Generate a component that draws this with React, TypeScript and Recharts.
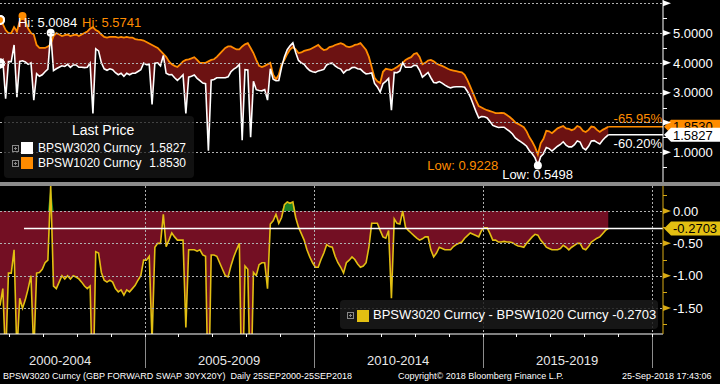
import React from "react";
import { ComposedChart, Area, Line, XAxis, YAxis, ReferenceLine, ReferenceDot } from "recharts";

// one value per month, first fixing 25 Sep 2000
const startYear = 2000.72;

// BPSW1020 Curncy (orange)
const bpsw1020 = [
    5.442, 5.30, 5.10, 5.00, 5.00, 5.20, 5.05, 5.40, 5.5741, 5.40, 5.15, 5.00,
    4.95, 4.60, 4.50, 4.50, 4.50, 4.55, 4.62, 4.90, 5.00, 4.95, 4.90, 4.93,
    4.95, 4.90, 4.93, 4.95, 4.90, 4.95, 5.00, 5.05, 5.15, 5.20, 5.10, 5.05,
    4.95, 4.87, 4.85, 4.87, 4.87, 4.87, 4.85, 4.87, 4.85, 4.87, 4.85, 4.85,
    4.80, 4.78, 4.77, 4.75, 4.70, 4.65, 4.60, 4.55, 4.50, 4.40, 4.30, 4.20,
    4.05, 3.95, 3.90, 3.86, 3.95, 4.05, 4.10, 4.12, 4.15, 4.19, 4.10, 4.00,
    4.00, 4.00, 4.05, 4.10, 4.12, 4.20, 4.30, 4.40, 4.50, 4.55, 4.55, 4.50,
    4.45, 4.45, 4.55, 4.62, 4.66, 4.50, 4.33, 4.10, 3.90, 3.86, 3.90, 3.95,
    4.00, 3.60, 3.45, 3.60, 3.95, 4.10, 4.30, 4.45, 4.53, 4.45, 4.33, 4.35,
    4.40, 4.43, 4.45, 4.50, 4.55, 4.60, 4.50, 4.43, 4.45, 4.53, 4.55, 4.60,
    4.63, 4.66, 4.62, 4.55, 4.53, 4.55, 4.60, 4.62, 4.66, 4.55, 4.43, 4.20,
    3.85, 3.50, 3.38, 3.32, 3.70, 3.80, 3.78, 3.76, 3.80, 3.86, 3.93, 4.00,
    4.10, 4.15, 4.19, 4.30, 4.33, 4.20, 3.95, 4.00, 4.08, 4.10, 4.05, 3.98,
    3.93, 3.90, 3.85, 3.80, 3.76, 3.74, 3.72, 3.70, 3.68, 3.60, 3.42, 3.20,
    2.98, 2.75, 2.55, 2.50, 2.45, 2.41, 2.38, 2.35, 2.31, 2.31, 2.32, 2.31,
    2.25, 2.18, 2.10, 2.00, 1.95, 1.90, 1.84, 1.70, 1.50, 1.35, 1.17, 0.9228,
    1.30, 1.45, 1.72, 1.70, 1.64, 1.72, 1.80, 1.84, 1.88, 1.80, 1.78, 1.74,
    1.78, 1.88, 1.84, 1.72, 1.68, 1.75, 1.86, 1.84, 1.75, 1.68, 1.75, 1.80,
    1.853,
];

// BPSW3020 Curncy (white)
const bpsw3020 = [
    3.977, 4.10, 2.80, 4.04, 4.04, 4.60, 2.85, 4.05, 4.07, 4.03, 3.95, 4.00,
    2.75, 3.64, 3.55, 3.60, 3.70, 3.79, 5.0084, 3.74, 3.80, 3.85, 3.90, 3.88,
    3.95, 3.85, 3.93, 3.93, 3.85, 3.85, 3.84, 3.85, 3.99, 2.30, 4.47, 4.40,
    4.00, 3.80, 3.75, 3.80, 3.77, 3.67, 3.60, 3.65, 3.55, 3.65, 3.60, 3.65,
    3.65, 3.71, 3.77, 3.99, 3.94, 3.95, 2.60, 3.99, 4.00, 3.90, 4.25, 3.65,
    3.60, 3.61, 3.50, 3.41, 3.50, 3.60, 2.30, 3.52, 3.55, 3.59, 3.48, 3.40,
    3.32, 3.30, 1.05, 3.42, 3.44, 3.50, 3.50, 3.50, 3.50, 3.53, 3.70, 3.79,
    3.85, 3.95, 1.40, 3.77, 3.76, 1.50, 3.38, 3.10, 3.07, 3.06, 3.10, 2.75,
    3.80, 3.45, 3.40, 3.41, 3.85, 4.20, 4.44, 4.57, 4.67, 4.35, 4.08, 4.00,
    3.95, 3.83, 3.74, 3.70, 3.68, 3.73, 3.75, 3.78, 3.93, 3.98, 3.99, 3.90,
    3.83, 3.79, 3.66, 3.75, 3.77, 3.84, 3.85, 3.80, 3.79, 3.70, 3.63, 3.64,
    3.66, 3.31, 3.19, 3.02, 3.30, 3.38, 3.48, 2.41, 3.68, 3.67, 3.73, 4.00,
    3.85, 3.85, 3.85, 3.92, 3.91, 3.75, 3.52, 3.60, 3.68, 3.50, 3.34, 3.33,
    3.37, 3.32, 3.25, 3.20, 3.16, 3.19, 3.20, 3.20, 3.20, 3.18, 3.04, 2.86,
    2.62, 2.37, 2.15, 2.20, 2.19, 2.15, 2.03, 1.90, 1.86, 1.83, 1.84, 1.84,
    1.77, 1.70, 1.61, 1.48, 1.41, 1.35, 1.28, 1.20, 1.05, 0.95, 0.81, 0.5498,
    0.85, 0.95, 1.16, 1.12, 1.04, 1.12, 1.20, 1.26, 1.35, 1.24, 1.18, 1.18,
    1.25, 1.38, 1.34, 1.14, 1.08, 1.20, 1.38, 1.39, 1.33, 1.28, 1.40, 1.50,
    1.5827,
];

const xDomain = [2000.72, 2020.34];
const topDomain = [0, 6.11];
const bottomDomain = [-1.902, 0.387];
const topTicks = [0.5, 1, 1.5, 2, 2.5, 3, 3.5, 4, 4.5, 5, 5.5, 6];
const topLabelled = [1, 3, 4, 5];
const bottomTicks = [0.25, 0, -0.25, -0.5, -0.75, -1, -1.25, -1.5, -1.75];
const yearTicks = [2001, 2002, 2003, 2004, 2005, 2006, 2007, 2008, 2009, 2010, 2011, 2012, 2013, 2014, 2015, 2016, 2017, 2018, 2019, 2020];
const periodTicks = [2002.5, 2007.5, 2012.5, 2017.5];
const periodLabels = ["2000-2004", "2005-2009", "2010-2014", "2015-2019"];
const periodBreaks = [2005, 2010, 2015, 2020];
const topGrid = [1, 2, 3, 4, 5, 6];
const bottomGrid = [0, -0.5, -1, -1.5];
const lastLineFrom = 2001.43;

const ORANGE = "#ff8c00";
const WHITE = "#ffffff";
const YELLOW = "#e2bf12";
const GOLD = "#d9ab14";
const GRID = "#b0b0b0";
const FONT = "'Liberation Sans', Arial, sans-serif";

const data = bpsw1020.map((o, i) => ({
    t: startYear + i / 12,
    o,
    w: bpsw3020[i],
    s: bpsw3020[i] - o,
}));
const first = data[0];
const last = data[data.length - 1];
const idxMax = (a: number[]) => a.indexOf(Math.max(...a));
const idxMin = (a: number[]) => a.indexOf(Math.min(...a));
const hiO = idxMax(bpsw1020);
const hiW = idxMax(bpsw3020);
const loO = idxMin(bpsw1020);
const loW = idxMin(bpsw3020);
const pct = (a: number, b: number) => ((b / a - 1) * 100).toFixed(2) + "%";
const crisp = (v: number) => Math.round(v) + 0.5;

// dotted grid drawn as short segments (2 on, 2 off)
const dashes = (len: number, horizontal: boolean) => {
    let d = "";
    for (let p = 0; p < len; p += 4) d += horizontal ? `M${p},0h2` : `M0,${p}v2`;
    return d;
};

// grid lines hang off the axis ticks so they stay on the library's scales
const HGrid = ({ x, y }: { x: number; y: number }) => (
    <path d={dashes(x, true)} transform={`translate(0,${crisp(y)})`} stroke={GRID} strokeWidth={1} fill="none" />
);
const VGrid = ({ x, y }: { x: number; y: number }) => (
    <path d={dashes(y, false)} transform={`translate(${crisp(x)},0)`} stroke={GRID} strokeWidth={1} fill="none" />
);

const TopTick = (props: any) => {
    const { x, y, payload } = props;
    const v = payload.value;
    if (!Number.isInteger(v)) return <line x1={x} x2={x + 4} y1={crisp(y)} y2={crisp(y)} stroke={WHITE} />;
    return (
        <g>
            {topGrid.includes(v) && <HGrid x={x} y={y} />}
            <path d={`M${x},${y - 3}L${x + 8},${y}L${x},${y + 3}Z`} fill={WHITE} />
            {topLabelled.includes(v) && (
                <text x={x + 10} y={y} dy="0.36em" fill={WHITE} fontSize={13} fontFamily={FONT}>{v.toFixed(4)}</text>
            )}
        </g>
    );
};

const BottomTick = (props: any) => {
    const { x, y, payload } = props;
    const v = payload.value;
    if (!bottomGrid.includes(v)) return <line x1={x} x2={x + 4} y1={crisp(y)} y2={crisp(y)} stroke={GOLD} />;
    return (
        <g>
            <HGrid x={x} y={y} />
            <path d={`M${x},${y - 3}L${x + 8},${y}L${x},${y + 3}Z`} fill={GOLD} />
            <text x={x + 10} y={y} dy="0.36em" fill={WHITE} fontSize={13} fontFamily={FONT}>{v === 0 ? "0.00" : v.toFixed(2)}</text>
        </g>
    );
};

const TopXTick = (props: any) => <VGrid x={props.x} y={props.y} />;

const XTick = (props: any) => {
    const { x, y, payload } = props;
    const v = payload.value;
    const p = periodTicks.indexOf(v);
    if (p >= 0) {
        return <text x={x} y={y + 31} textAnchor="middle" fill="#e8e8e8" fontSize={13} fontFamily={FONT}>{periodLabels[p]}</text>;
    }
    const br = periodBreaks.includes(v);
    return (
        <g>
            {br && <VGrid x={x} y={y} />}
            <line x1={crisp(x)} x2={crisp(x)} y1={y} y2={y + 3} stroke={WHITE} />
            {br && <line x1={crisp(x)} x2={crisp(x)} y1={y + 3} y2={y + 34} stroke="#8c8c8c" />}
        </g>
    );
};

const tag = (color: string, text: string, note: string | null, noteColor: string, noteDy: number) => (p: any) => {
    const { x1, y1, x2 } = p;
    return (
        <g>
            <line x1={x1} x2={x2} y1={y1} y2={y1} stroke={color} strokeWidth={1.5} />
            {note && (
                <text x={x2 - 1} y={y1 + noteDy} textAnchor="end" fill={noteColor} fontSize={13} fontFamily={FONT}>{note}</text>
            )}
            <path d={`M${x2 + 1},${y1}L${x2 + 8},${y1 - 7}H720V${y1 + 7}H${x2 + 8}Z`} fill={color} />
            <text x={x2 + 10} y={y1} dy="0.36em" fill="#000" fontSize={13} fontFamily={FONT}>{text}</text>
        </g>
    );
};

const marker = (color: string, r: number, text: string, dx: number, dy: number, anchor: string) => (p: any) => (
    <g>
        {r > 0 && <circle cx={p.cx} cy={p.cy} r={r} fill={color} />}
        <text x={p.cx + dx} y={p.cy + dy} dy="0.35em" textAnchor={anchor} fill={color} fontSize={13} fontFamily={FONT}>{text}</text>
    </g>
);

const PlusBox = () => (
    <svg width={7} height={7} style={{ display: "block" }}>
        <rect x={0.5} y={0.5} width={6} height={6} fill="none" stroke="#888" />
        <line x1={2} x2={5} y1={3.5} y2={3.5} stroke="#888" />
        <line x1={3.5} x2={3.5} y1={2} y2={5} stroke="#888" />
    </svg>
);

const abs = (left: number, top: number, extra: React.CSSProperties = {}): React.CSSProperties => ({
    position: "absolute",
    left,
    top,
    ...extra,
});

export default function App() {
    return (
        <div style={{ position: "absolute", left: 0, top: 0, width: 720, height: 384, background: "#000", overflow: "hidden", fontFamily: FONT, color: "#fff" }}>
            <div style={abs(0, 0)}>
                <ComposedChart width={720} height={182} data={data} margin={{ top: 0, right: 0, bottom: 0, left: 0 }}>
                    <Area dataKey={(d: any) => [d.w, d.o]} fill="#901818" fillOpacity={0.75} stroke="none" isAnimationActive={false} />
                    <XAxis
                        dataKey="t"
                        type="number"
                        domain={xDomain}
                        ticks={periodBreaks}
                        interval={0}
                        height={0}
                        axisLine={false}
                        tickLine={false}
                        tickSize={0}
                        tickMargin={0}
                        tick={(p: any) => <TopXTick {...p} />}
                        allowDataOverflow
                    />
                    <YAxis
                        orientation="right"
                        width={57}
                        domain={topDomain}
                        ticks={topTicks}
                        interval={0}
                        tickLine={false}
                        tickSize={0}
                        tickMargin={0}
                        axisLine={{ stroke: WHITE }}
                        tick={(p: any) => <TopTick {...p} />}
                        allowDataOverflow
                    />
                    <Line dataKey="o" stroke={ORANGE} strokeWidth={1.8} dot={false} isAnimationActive={false} />
                    <Line dataKey="w" stroke={WHITE} strokeWidth={1.6} dot={false} isAnimationActive={false} />
                    <ReferenceLine
                        segment={[{ x: last.t, y: last.o }, { x: xDomain[1], y: last.o }]}
                        shape={tag(ORANGE, last.o.toFixed(4), pct(first.o, last.o), ORANGE, -4)}
                    />
                    <ReferenceLine
                        segment={[{ x: last.t, y: last.w }, { x: xDomain[1], y: last.w }]}
                        shape={tag(WHITE, last.w.toFixed(4), pct(first.w, last.w), WHITE, 13)}
                    />
                    <ReferenceDot x={data[hiO].t} y={bpsw1020[hiO]} r={4} shape={marker(ORANGE, 4, `Hi: ${bpsw1020[hiO].toFixed(4)}`, 59.5, 6, "start")} />
                    <ReferenceDot x={data[hiW].t} y={bpsw3020[hiW]} r={4} shape={marker(WHITE, 4, `Hi: ${bpsw3020[hiW].toFixed(4)}`, -32.7, -10.8, "start")} />
                    <ReferenceDot x={data[loO].t} y={bpsw1020[loO]} r={4} shape={marker(ORANGE, 0, `Low: ${bpsw1020[loO].toFixed(4)}`, -39.7, 10.5, "end")} />
                    <ReferenceDot x={data[loW].t} y={bpsw3020[loW]} r={4} shape={marker(WHITE, 4, `Low: ${bpsw3020[loW].toFixed(4)}`, -35.7, 8.6, "start")} />
                </ComposedChart>
            </div>

            <div style={abs(4, 116, { width: 190, height: 62, background: "rgba(24,24,24,0.72)", borderRadius: 4, fontSize: 12 })}>
                <div style={abs(68, 6, { fontSize: 14 })}>Last Price</div>
                <div style={abs(8, 29)}><PlusBox /></div>
                <div style={abs(17, 26, { width: 12, height: 12, background: WHITE })} />
                <div style={abs(34, 25)}>BPSW3020 Curncy</div>
                <div style={{ position: "absolute", right: 8, top: 25 }}>{last.w.toFixed(4)}</div>
                <div style={abs(8, 44)}><PlusBox /></div>
                <div style={abs(17, 41, { width: 12, height: 12, background: ORANGE })} />
                <div style={abs(34, 40)}>BPSW1020 Curncy</div>
                <div style={{ position: "absolute", right: 8, top: 40 }}>{last.o.toFixed(4)}</div>
            </div>

            <div style={abs(0, 182, { width: 720, height: 4, background: "#8c8c8c" })} />

            <div style={abs(0, 186)}>
                <ComposedChart width={720} height={184} data={data} margin={{ top: 0, right: 0, bottom: 0, left: 0 }}>
                    <Area dataKey={(d: any) => Math.min(d.s, 0)} baseValue={0} fill="#99142f" fillOpacity={0.75} stroke="none" isAnimationActive={false} />
                    <Area dataKey={(d: any) => Math.max(d.s, 0)} baseValue={0} fill="#22a030" fillOpacity={0.8} stroke="none" isAnimationActive={false} />
                    <XAxis
                        dataKey="t"
                        type="number"
                        domain={xDomain}
                        ticks={[...yearTicks, ...periodTicks].sort((a, b) => a - b)}
                        interval={0}
                        height={36}
                        tickLine={false}
                        tickSize={0}
                        tickMargin={0}
                        axisLine={{ stroke: WHITE }}
                        tick={(p: any) => <XTick {...p} />}
                        allowDataOverflow
                    />
                    <YAxis
                        orientation="right"
                        width={57}
                        domain={bottomDomain}
                        ticks={bottomTicks}
                        interval={0}
                        tickLine={false}
                        tickSize={0}
                        tickMargin={0}
                        axisLine={{ stroke: GOLD }}
                        tick={(p: any) => <BottomTick {...p} />}
                        allowDataOverflow
                    />
                    <Line dataKey="s" stroke={YELLOW} strokeWidth={1.6} dot={false} isAnimationActive={false} />
                    <ReferenceLine
                        segment={[{ x: lastLineFrom, y: last.s }, { x: xDomain[1], y: last.s }]}
                        shape={(p: any) => (
                            <g>
                                <line x1={p.x1} x2={p.x2} y1={p.y1} y2={p.y1} stroke={WHITE} strokeWidth={1.5} />
                                <path d={`M${p.x2 + 1},${p.y1}L${p.x2 + 8},${p.y1 - 7}H720V${p.y1 + 7}H${p.x2 + 8}Z`} fill={YELLOW} />
                                <text x={p.x2 + 10} y={p.y1} dy="0.36em" fill="#000" fontSize={13} fontFamily={FONT}>{last.s.toFixed(4)}</text>
                            </g>
                        )}
                    />
                </ComposedChart>
            </div>

            <div style={abs(340, 300, { width: 318, height: 29, background: "rgba(26,26,26,0.85)", borderRadius: 4, fontSize: 13 })}>
                <div style={abs(7, 12)}><PlusBox /></div>
                <div style={abs(17, 10, { width: 12, height: 12, background: YELLOW })} />
                <div style={abs(33, 7, { whiteSpace: "nowrap" })}>BPSW3020 Curncy - BPSW1020 Curncy {last.s.toFixed(4)}</div>
            </div>

            <div style={abs(3, 371, { fontSize: 9, whiteSpace: "nowrap" })}>BPSW3020 Curncy (GBP FORWARD SWAP 30YX20Y)&nbsp; Daily 25SEP2000-25SEP2018</div>
            <div style={abs(398, 371, { fontSize: 9, whiteSpace: "nowrap" })}>Copyright© 2018 Bloomberg Finance L.P.</div>
            <div style={abs(622, 371, { fontSize: 9, whiteSpace: "nowrap" })}>25-Sep-2018 17:43:06</div>
        </div>
    );
}
